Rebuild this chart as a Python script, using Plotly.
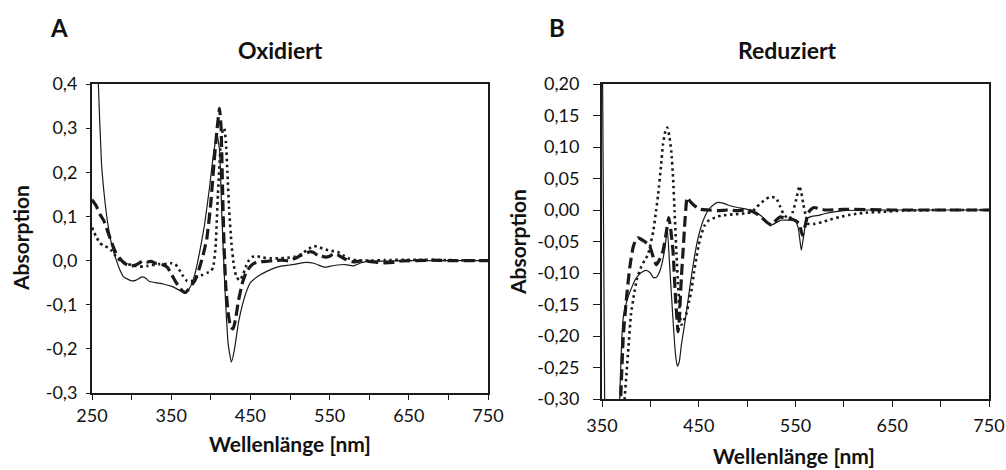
import plotly.graph_objects as go

# ---------------- Panel A: Oxidiert ----------------
a_solid_x = [255, 258, 262, 266, 270, 275, 280, 285, 290, 300, 305, 313, 318, 322, 330, 340, 350, 360, 368,
             374, 380, 386, 392, 398, 404, 408, 411, 414, 418, 422, 426, 430, 435, 440, 445, 450, 460, 470,
             480, 490, 500, 510, 520, 530, 540, 545, 550, 560, 570, 580, 590, 600, 650, 700, 750]
a_solid_y = [0.60, 0.40, 0.22, 0.14, 0.083, 0.035, 0.005, -0.02, -0.037, -0.046, -0.045, -0.037, -0.040, -0.047,
             -0.050, -0.053, -0.058, -0.067, -0.075, -0.060, -0.030, 0.020, 0.080, 0.160, 0.250, 0.285, 0.250,
             0.100, -0.070, -0.190, -0.230, -0.200, -0.140, -0.100, -0.070, -0.050, -0.035, -0.025, -0.017,
             -0.012, -0.010, -0.007, -0.004, -0.006, -0.013, -0.015, -0.013, -0.010, -0.009, -0.012, -0.005,
             -0.002, 0.0, 0.0, 0.0]

a_dash_x = [250, 255, 260, 265, 270, 275, 280, 285, 290, 295, 300, 305, 310, 315, 320, 325, 330, 335, 340, 345,
            350, 355, 360, 365, 368, 372, 376, 380, 385, 390, 395, 400, 404, 408, 411, 413, 415, 417, 419, 422,
            425, 428, 431, 435, 440, 445, 450, 455, 460, 470, 480, 490, 500, 505, 510, 515, 520, 525, 530, 535,
            540, 545, 550, 555, 560, 565, 570, 575, 580, 590, 600, 610, 620, 630, 640, 660, 680, 700, 720, 750]
a_dash_y = [0.138, 0.125, 0.105, 0.090, 0.065, 0.040, 0.018, 0.005, -0.005, -0.010, -0.012, -0.010, -0.005,
            0.000, -0.003, -0.002, -0.006, -0.005, -0.010, -0.015, -0.030, -0.046, -0.060, -0.070, -0.072,
            -0.065, -0.055, -0.045, -0.020, 0.010, 0.050, 0.130, 0.220, 0.300, 0.345, 0.300, 0.150, 0.020,
            -0.060, -0.120, -0.150, -0.155, -0.135, -0.090, -0.050, -0.025, -0.013, -0.006, -0.003, -0.002,
            0.000, 0.001, -0.001, 0.004, 0.008, 0.013, 0.016, 0.020, 0.018, 0.012, 0.010, 0.008, 0.010, 0.015,
            0.013, 0.008, 0.003, -0.001, -0.003, -0.001, -0.002, -0.004, -0.005, -0.004, -0.001, 0.000, 0.001,
            0.000, 0.000, 0.000]

a_dot_x = [250, 255, 260, 265, 270, 275, 280, 285, 290, 295, 300, 305, 310, 315, 320, 325, 330, 335, 340, 345,
           350, 355, 360, 365, 370, 375, 380, 385, 390, 395, 400, 403, 406, 409, 412, 415, 417, 419, 421, 423,
           426, 429, 432, 436, 440, 444, 448, 452, 458, 465, 475, 485, 495, 505, 515, 522, 530, 537, 545, 552,
           560, 567, 575, 585, 600, 620, 650, 700, 750]
a_dot_y = [0.075, 0.055, 0.040, 0.033, 0.030, 0.022, 0.010, 0.000, -0.003, -0.008, -0.010, -0.012, -0.014,
           -0.013, -0.012, -0.010, -0.010, -0.008, -0.008, -0.007, -0.006, -0.008, -0.020, -0.035, -0.046,
           -0.048, -0.040, -0.035, -0.032, -0.028, -0.024, -0.015, 0.030, 0.150, 0.250, 0.295, 0.300, 0.270,
           0.200, 0.120, 0.040, -0.010, -0.035, -0.045, -0.035, -0.015, 0.000, 0.008, 0.010, 0.007, 0.005,
           0.005, 0.006, 0.008, 0.015, 0.025, 0.033, 0.030, 0.025, 0.022, 0.020, 0.012, 0.004, 0.000, 0.000,
           0.001, 0.002, 0.001, 0.000]

# ---------------- Panel B: Reduziert ----------------
b_solid_x = [350, 354, 360, 365, 368.3, 372, 377, 381, 384, 388, 392, 396, 400, 403, 406, 409, 412, 415, 417.5,
             420, 423, 426, 428, 430, 432, 435, 437, 441, 446, 450, 455, 460, 465, 470, 475, 480, 490, 500, 505,
             510, 515, 520, 525, 530, 535, 540, 545, 550, 553, 556, 559, 562, 567, 572, 580, 590, 600, 620, 650,
             700, 750]
b_solid_y = [0.35, -0.60, -1.00, -0.60, -0.30, -0.170, -0.138, -0.122, -0.112, -0.103, -0.098, -0.096, -0.100,
             -0.107, -0.107, -0.100, -0.085, -0.060, -0.030, -0.090, -0.165, -0.230, -0.248, -0.240, -0.215,
             -0.185, -0.165, -0.120, -0.070, -0.040, -0.015, 0.000, 0.008, 0.012, 0.011, 0.008, 0.004, 0.001,
             -0.002, -0.005, -0.010, -0.018, -0.024, -0.020, -0.016, -0.016, -0.016, -0.018, -0.030, -0.064,
             -0.035, -0.013, -0.010, -0.009, -0.006, -0.003, -0.001, 0.000, 0.000, 0.000, 0.000]

b_dash_x = [360, 365, 369.3, 372, 375, 378.6, 382, 385, 387, 390, 394, 399, 403, 406, 409, 413, 416, 419, 421,
            423.4, 426, 428.6, 430, 432, 434, 435.5, 438, 441, 444, 448, 452, 460, 470, 480, 490, 500, 505, 510,
            515, 520, 525, 530, 534, 540, 545, 550, 554, 557, 560, 563, 566, 569, 575, 580, 600, 650, 700, 750]
b_dash_y = [-0.60, -0.45, -0.30, -0.200, -0.145, -0.092, -0.060, -0.047, -0.044, -0.046, -0.050, -0.056,
            -0.075, -0.087, -0.080, -0.065, -0.040, -0.012, -0.030, -0.065, -0.140, -0.193, -0.170, -0.108,
            -0.060, -0.023, 0.020, 0.014, 0.009, 0.004, 0.001, 0.000, -0.001, 0.000, -0.001, 0.000, -0.002,
            -0.006, -0.012, -0.019, -0.024, -0.016, -0.011, -0.013, -0.014, -0.017, -0.022, -0.040, -0.025,
            -0.005, 0.001, 0.004, 0.002, 0.000, 0.001, 0.000, 0.000, 0.000]

b_dot_x = [360, 370, 373.4, 377, 380, 383, 386, 390, 394, 397.5, 400, 403, 406, 408, 411, 413, 415.5, 417.5,
           419.5, 421.6, 423.5, 425, 427, 428.6, 430.5, 432, 434, 437, 440, 442.3, 445, 447.5, 450, 452.6, 456,
           460, 467, 473, 485, 493, 500, 505, 510, 515, 520, 524, 530, 534, 537.4, 541, 544, 547, 550.5, 554,
           556, 558, 561, 563, 570, 578, 586, 596, 605, 613, 625, 640, 660, 700, 750]
b_dot_y = [-0.70, -0.40, -0.30, -0.225, -0.165, -0.135, -0.110, -0.092, -0.080, -0.071, -0.055, -0.034, 0.000,
           0.024, 0.070, 0.104, 0.125, 0.131, 0.118, 0.094, 0.050, -0.002, -0.070, -0.118, -0.165, -0.182,
           -0.178, -0.166, -0.145, -0.129, -0.100, -0.076, -0.055, -0.039, -0.025, -0.017, -0.012, -0.009,
           -0.007, -0.006, -0.005, -0.003, 0.005, 0.012, 0.018, 0.021, 0.019, 0.006, -0.006, -0.012, -0.014,
           -0.004, 0.015, 0.038, 0.028, 0.010, -0.012, -0.022, -0.022, -0.019, -0.015, -0.011, -0.008, -0.006,
           -0.004, -0.003, -0.001, 0.000, 0.000]

# ---------------- Axis ticks ----------------
a_xtick_vals = [250, 350, 450, 550, 650, 750]
a_xtick_text = ["250", "350", "450", "550", "650", "750"]
a_ytick_vals = [-0.3, -0.2, -0.1, 0.0, 0.1, 0.2, 0.3, 0.4]
a_ytick_text = ["-0,3", "-0,2", "-0,1", "0,0", "0,1", "0,2", "0,3", "0,4"]
b_xtick_vals = [350, 450, 550, 650, 750]
b_xtick_text = ["350", "450", "550", "650", "750"]
b_ytick_vals = [-0.30, -0.25, -0.20, -0.15, -0.10, -0.05, 0.00, 0.05, 0.10, 0.15, 0.20]
b_ytick_text = ["-0,30", "-0,25", "-0,20", "-0,15", "-0,10", "-0,05", "0,00", "0,05", "0,10", "0,15", "0,20"]

FONT = "Lato"
INK = "#1a1a1a"

solid_style = dict(color=INK, width=1.2)
dash_style = dict(color=INK, width=3.2, dash="11px,5px")
dot_style = dict(color=INK, width=2.6, dash="2.5px,3.5px")

fig = go.Figure()
for xs, ys, st, xa, ya in [
    (a_solid_x, a_solid_y, solid_style, "x", "y"),
    (a_dash_x, a_dash_y, dash_style, "x", "y"),
    (a_dot_x, a_dot_y, dot_style, "x", "y"),
    (b_solid_x, b_solid_y, solid_style, "x2", "y2"),
    (b_dash_x, b_dash_y, dash_style, "x2", "y2"),
    (b_dot_x, b_dot_y, dot_style, "x2", "y2"),
]:
    fig.add_trace(go.Scatter(x=xs, y=ys, mode="lines", line=dict(shape="spline", smoothing=0.4, **st),
                             xaxis=xa, yaxis=ya, showlegend=False, hoverinfo="skip"))

axis_common = dict(showline=True, linecolor=INK, linewidth=2, mirror=True, showgrid=False, zeroline=False,
                   automargin=False, ticks="outside", tickcolor=INK, tickwidth=1.2,
                   tickfont=dict(family=FONT, size=18, color="#111"))

fig.update_layout(
    template="none",
    width=1006, height=470,
    margin=dict(l=0, r=0, t=0, b=0, pad=0),
    paper_bgcolor="white", plot_bgcolor="white",
    xaxis=dict(domain=[92/1006, 488/1006], range=[250, 750], tickvals=a_xtick_vals, ticktext=a_xtick_text,
               ticklen=5, ticklabelstandoff=0, minor=dict(dtick=50, tick0=250, ticks="outside", ticklen=5, tickcolor=INK),
               anchor="y", **axis_common),
    yaxis=dict(domain=[1-393/470, 1-84/470], range=[-0.3, 0.4], tickvals=a_ytick_vals, ticktext=a_ytick_text,
               ticklen=4, ticklabelstandoff=5, anchor="x", **axis_common),
    xaxis2=dict(domain=[602/1006, 989/1006], range=[350, 750], tickvals=b_xtick_vals, ticktext=b_xtick_text,
                ticklen=6, ticklabelstandoff=3, minor=dict(dtick=50, tick0=350, ticks="outside", ticklen=6, tickcolor=INK),
                anchor="y2", **axis_common),
    yaxis2=dict(domain=[1-399/470, 1-84/470], range=[-0.30, 0.20], tickvals=b_ytick_vals, ticktext=b_ytick_text,
                ticklen=7, ticklabelstandoff=10, anchor="x2", **axis_common),
)

def ann(text, x, y, size, angle=0, bold=True):
    fig.add_annotation(text=f"<b>{text}</b>" if bold else text, x=x/1006, y=1-y/470, xref="paper", yref="paper",
                       showarrow=False, xanchor="center", yanchor="middle", textangle=angle,
                       font=dict(family=FONT, size=size, color="#111"))

ann("A", 59, 27, 24)
ann("B", 557, 27, 24)
ann("Oxidiert", 280, 50, 23)
ann("Reduziert", 787, 50, 23)
ann("Wellenlänge [nm]", 290, 443, 21)
ann("Wellenlänge [nm]", 794, 455, 21)
ann("Absorption", 21, 238, 21, angle=-90)
ann("Absorption", 518, 242, 21, angle=-90)

fig.write_html("out.html")
